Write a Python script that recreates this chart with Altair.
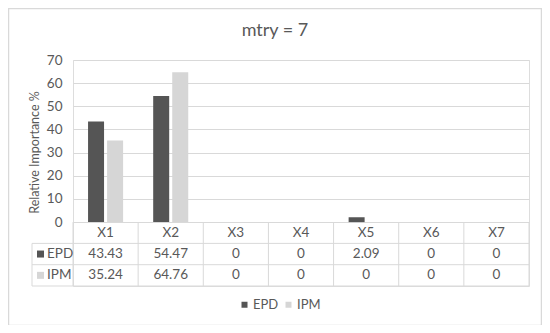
import altair as alt
import pandas as pd

# ---- data ----
categories = ["X1", "X2", "X3", "X4", "X5", "X6", "X7"]
series = ["EPD", "IPM"]
epd_values = [43.43, 54.47, 0, 0, 2.09, 0, 0]
ipm_values = [35.24, 64.76, 0, 0, 0, 0, 0]
y_ticks = [0, 10, 20, 30, 40, 50, 60, 70]
series_colors = ["#555555", "#d6d6d6"]
chart_title = "mtry = 7"
y_title = "Relative Importance %"

# ---- layout constants ----
W, H = 456, 226
ROW = 9.2  # table row height in y units
Y_MIN = -3 * ROW
TXT = "#595959"
LINE = "#d9d9d9"
FONT = "Lato"
FS = 13.5

bars_df = pd.DataFrame(
    [{"category": c, "series": "EPD", "value": v} for c, v in zip(categories, epd_values)]
    + [{"category": c, "series": "IPM", "value": v} for c, v in zip(categories, ipm_values)]
)

row_pos = {"header": -0.5 * ROW, "EPD": -1.5 * ROW, "IPM": -2.5 * ROW}
table_rows = [{"category": c, "pos": row_pos["header"], "label": c} for c in categories]
for s, vals in (("EPD", epd_values), ("IPM", ipm_values)):
    table_rows += [{"category": c, "pos": row_pos[s], "label": f"{v:g}"} for c, v in zip(categories, vals)]
table_df = pd.DataFrame(table_rows)

side_df = pd.DataFrame({"series": series, "pos": [row_pos[s] for s in series]})
hline_df = pd.DataFrame({"pos": [-ROW, -2 * ROW, -3 * ROW]})
vline_df = pd.DataFrame({"category": categories})
edge_df = pd.DataFrame({"pos": [0, -ROW], "x0": [W, -41]})

xscale = alt.Scale(domain=categories, paddingInner=0, paddingOuter=0)
yscale = alt.Scale(domain=[Y_MIN, 70], nice=False, zero=False)
cscale = alt.Scale(domain=series, range=series_colors)

yaxis = alt.Axis(values=y_ticks, title=y_title, labelOverlap=False, titleX=-32, titleY=92)
legend = alt.Legend(title=None, orient="none", direction="horizontal", legendX=165, legendY=238)


def Y(field):
    return alt.Y(field, scale=yscale, axis=yaxis, title=y_title)


def C():
    return alt.Color("series:N", scale=cscale, legend=legend)


bars = alt.Chart(bars_df).mark_bar().encode(
    x=alt.X("category:N", scale=xscale, sort=categories, axis=None),
    xOffset=alt.XOffset("series:N", scale=alt.Scale(domain=series, paddingInner=0.16, paddingOuter=0.79)),
    y=Y("value:Q"),
    color=C(),
)

hlines = alt.Chart(hline_df).mark_rule(color=LINE, strokeWidth=1).encode(
    y=Y("pos:Q"), x=alt.value(-41), x2=alt.value(W)
)
vlines = alt.Chart(vline_df).mark_rule(color=LINE, strokeWidth=1).encode(
    x=alt.X("category:N", scale=xscale, sort=categories, bandPosition=0, axis=None),
    y=alt.Y(datum=0, scale=yscale, axis=yaxis), y2=alt.datum(Y_MIN),
)
edge_lines = alt.Chart(edge_df).mark_rule(color=LINE, strokeWidth=1).encode(
    x=alt.X("x0:Q", scale=None), y=Y("pos:Q"), y2=alt.datum(Y_MIN)
)

table_text = alt.Chart(table_df).mark_text(fontSize=FS, color=TXT, font=FONT).encode(
    x=alt.X("category:N", scale=xscale, sort=categories, axis=None),
    y=Y("pos:Q"),
    text="label:N",
)
side_sq = alt.Chart(side_df).mark_point(shape="square", filled=True, size=49, opacity=1).encode(
    x=alt.value(-32.5), y=Y("pos:Q"), color=C()
)
side_txt = alt.Chart(side_df).mark_text(fontSize=FS, color=TXT, font=FONT, align="left").encode(
    x=alt.value(-26), y=Y("pos:Q"), text="series:N"
)
title_txt = alt.Chart(alt.Data(values=[{"t": chart_title}])).mark_text(
    fontSize=18, color=TXT, font=FONT, align="center", baseline="middle"
).encode(x=alt.value(202), y=alt.value(-29), text="t:N")
border = alt.Chart(alt.Data(values=[{}])).mark_rect(fill="transparent", stroke=LINE, strokeWidth=1.5).encode(
    x=alt.value(-64.5), x2=alt.value(468.5), y=alt.value(-51.5), y2=alt.value(265.5)
)

chart = alt.layer(
    border, bars, hlines, vlines, edge_lines, table_text, side_sq, side_txt, title_txt
).properties(
    width=W, height=H,
    autosize=alt.AutoSizeParams(type="none"),
    padding={"left": 65, "top": 52, "right": 13, "bottom": 39},
).configure_view(stroke=None).configure(background="white").configure_axisY(
    grid=True, gridColor=LINE, domain=False, ticks=False, labelOverlap=False,
    labelPadding=11, labelFontSize=FS, labelColor=TXT, labelFont=FONT,
    titleFontSize=12.5, titleColor=TXT, titleFont=FONT, titleFontWeight="normal",
).configure_legend(
    symbolType="square", symbolSize=36, symbolStrokeWidth=0,
    labelFontSize=13, labelColor=TXT, labelFont=FONT, labelOffset=2, columnPadding=3,
)

chart.save("out.html", embed_options={"renderer": "svg", "actions": False})
